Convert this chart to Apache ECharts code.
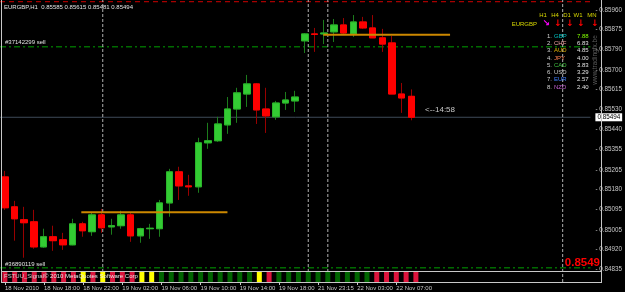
<!DOCTYPE html>
<html>
<head>
<meta charset="utf-8">
<script src="https://cdn.jsdelivr.net/npm/echarts@6/dist/echarts.min.js"></script>
<style>
html, body { margin: 0; padding: 0; background: #000; }
#chart { width: 625px; height: 292px; }
</style>
</head>
<body>
<div id="chart"></div>
<script>
// EURGBP H1 bars
const opens  = [0.85235,0.85105,0.85049,0.85040,0.84931,0.84975,0.84962,0.84940,0.85031,0.84997,0.85070,0.85018,0.85023,0.85070,0.84979,0.85010,0.85010,0.85122,0.85257,0.85196,0.85192,0.85383,0.85392,0.85461,0.85530,0.85595,0.85639,0.85530,0.85496,0.85556,0.85565,0.85826,0.85856,0.85856,0.85865,0.85895,0.85856,0.85908,0.85882,0.85839,0.85817,0.85595,0.85585];
const closes = [0.85101,0.85053,0.85036,0.84931,0.84975,0.84958,0.84940,0.85031,0.85001,0.85070,0.85014,0.85023,0.85070,0.84979,0.85010,0.85012,0.85122,0.85257,0.85196,0.85192,0.85383,0.85392,0.85465,0.85530,0.85600,0.85639,0.85526,0.85500,0.85556,0.85569,0.85582,0.85856,0.85854,0.85860,0.85895,0.85860,0.85908,0.85882,0.85839,0.85812,0.85595,0.85578,0.85494];
const lows   = [0.85092,0.84958,0.84884,0.84923,0.84927,0.84914,0.84918,0.84938,0.84975,0.84979,0.84992,0.84984,0.85010,0.84953,0.84949,0.84966,0.84975,0.85062,0.85135,0.85153,0.85166,0.85357,0.85387,0.85422,0.85470,0.85539,0.85465,0.85426,0.85483,0.85526,0.85517,0.85773,0.85778,0.85812,0.85821,0.85856,0.85843,0.85878,0.85839,0.85778,0.85595,0.85513,0.85481];
const highs  = [0.85261,0.85131,0.85105,0.85092,0.85010,0.85023,0.84992,0.85053,0.85040,0.85079,0.85096,0.85053,0.85088,0.85079,0.85014,0.85031,0.85135,0.85270,0.85279,0.85244,0.85405,0.85470,0.85496,0.85582,0.85622,0.85678,0.85643,0.85622,0.85565,0.85604,0.85609,0.85860,0.85882,0.85917,0.85921,0.85925,0.85938,0.85930,0.85938,0.85878,0.85847,0.85643,0.85615];

// signal strip under the bars: r = red, y = yellow, g = green
const stripSignals = ['r','r','r','r','r','r','r','r','y','r','y','r','r','r','y','y',
  'g','g','g','g','g','g','g','g','g','g','y','r',
  'g','g','g','g','g','g','g','g','g','g','r','r','r','r','r'];

const timeLabels = ['18 Nov 2010','18 Nov 18:00','18 Nov 22:00','19 Nov 02:00','19 Nov 06:00','19 Nov 10:00',
  '19 Nov 14:00','19 Nov 18:00','21 Nov 23:15','22 Nov 03:00','22 Nov 07:00'];
const priceTicks = [0.84835,0.84920,0.85005,0.85095,0.85180,0.85265,0.85355,0.85440,0.85530,0.85615,0.85700,0.85790,0.85875,0.85960];

const currentPrice = 0.85494;
const sellOrders = [{ id: '#37142299 sell', price: 0.85800 }, { id: '#36890119 sell', price: 0.84840 }];
const topLevel = 0.85996;
const levelSegments = [{ from: 7.9, to: 23.0, price: 0.85082 }, { from: 32.9, to: 46.0, price: 0.85853 }];
const separatorBars = [10, 31, 33, 57];

const tfLabels = ['H1','H4','D1','W1','MN'];
const tfArrows = ['↘','↓','↓','↓','↓'];
const strengthCurrencies = ['GBP','CHF','AUD','JPY','CAD','USD','EUR','NZD'];
const strengthValues = [7.88, 6.83, 4.85, 4.00, 3.83, 3.29, 2.57, 2.40];

// ---- layout / styles ----
const FONT = '"Liberation Sans", Arial, sans-serif';
const grey = '#c8c8c8';
const slotCount = 61, slotW = 9.83, gridLeft = -2.7, gridW = slotCount * slotW;
const xMin = -0.5, xMax = slotCount - 0.5;
const showTime = i => i % 4 === 0 && i / 4 < timeLabels.length;
const cats = Array.from({ length: slotCount }, (_, i) => showTime(i) ? timeLabels[i / 4] : 'b' + i);

const stripColors = { r: '#dc143c', y: '#ffff00', g: '#006400' };
const curColors = { GBP: '#00c0c0', CHF: '#f0a0a0', AUD: '#e0b000', JPY: '#ff8050', CAD: '#40c040', USD: '#c8c8c8', EUR: '#4080ff', NZD: '#c060d0' };

const full = opens.map((o, i) => [o, closes[i], lows[i], highs[i]]);
const bodies = opens.map((o, i) => [o, closes[i], Math.min(o, closes[i]), Math.max(o, closes[i])]);

function txt(text, x, y, fill, size, extra) {
    return {
        type: 'text', x: x, y: y, z: 50,
        style: Object.assign({ text: text, fill: fill, font: size + 'px ' + FONT, verticalAlign: 'middle' }, extra || {})
    };
}
function vline(x, y1, y2) {
    return { type: 'line', z: 40, shape: { x1: x, y1: y1, x2: x, y2: y2 }, style: { stroke: grey, lineWidth: 1 } };
}
function hline(y, x1, x2) {
    return { type: 'line', z: 40, shape: { x1: x1, y1: y, x2: x2, y2: y }, style: { stroke: grey, lineWidth: 1 } };
}

const graphics = [
    vline(1.5, 0, 283), vline(601.5, 0, 283), hline(271.5, 1, 601), hline(282.5, 1, 601),
    txt('EURGBP,H1  ' + [opens[42], highs[42], lows[42], closes[42]].map(v => v.toFixed(5)).join(' '), 4, 7, '#e0e0e0', 6),
    txt(sellOrders[0].id, 5, 42, '#e0e0e0', 6),
    txt(sellOrders[1].id, 5, 264, '#e0e0e0', 6),
    txt('<--14:58', 425, 110, '#c8c8c8', 8),
    txt(currentPrice.toFixed(4).slice(0, 6), 600, 263, '#ff0000', 11.5, { align: 'right', font: 'bold 11.5px ' + FONT }),
    txt('FSTUU_Signal', 4, 276, '#d0d0d0', 6),
    txt('© 2010 MetaQuotes Software Corp', 44, 276, '#e8e8e8', 6),
    txt('EURGBP', 537, 24, '#d8d800', 6, { align: 'right' })
];
const mark = txt('www.tradingfx.be', 595, 60, '#5a5a5a', 6.5, { align: 'center' });
mark.rotation = Math.PI / 2;
graphics.push(mark);

const tfX = [543, 555, 567, 578, 592];
const arrowX = [546, 558, 570, 581, 595];
tfLabels.forEach((t, i) => {
    graphics.push(txt(t, tfX[i], 15, '#d8d800', 6, { align: 'center' }));
    graphics.push(txt(tfArrows[i], arrowX[i], 24, i === 0 ? '#ff00ff' : '#ff0000', 9, { align: 'center', font: 'bold 9px "DejaVu Sans", sans-serif' }));
});
strengthCurrencies.forEach((c, i) => {
    const y = 36 + i * 7.3;
    graphics.push(txt((i + 1) + '.', 552, y, '#d0d0d0', 6, { align: 'right' }));
    graphics.push(txt(c, 554, y, curColors[c], 6));
    graphics.push(txt(strengthValues[i].toFixed(2), 577, y, i === 0 ? '#80ff00' : '#e0e0e0', 6));
});

const hiddenVal = (min, max, gi) => ({ type: 'value', gridIndex: gi, min: min, max: max, show: false });

// full-width horizontal price lines, drawn on the value x axis of the main grid
function priceLine(price, lineStyle, z, extra) {
    return Object.assign({
        type: 'line', xAxisIndex: 1, yAxisIndex: 0, z: z, symbol: 'none', silent: true,
        data: [[xMin, price], [xMax, price]], lineStyle: lineStyle
    }, extra || {});
}

const option = {
    backgroundColor: '#000',
    animation: false,
    grid: [
        { left: gridLeft, width: gridW, top: 0, height: 271 },
        { left: gridLeft, width: gridW, top: 272, height: 10 },
        { left: gridLeft, width: gridW, top: 0, height: 282 }
    ],
    xAxis: [
        { type: 'category', gridIndex: 0, data: cats, show: false },
        hiddenVal(xMin, xMax, 0),
        {
            type: 'category', gridIndex: 1, data: cats,
            axisLine: { show: false },
            axisTick: { show: true, interval: showTime, alignWithLabel: true, length: 3, lineStyle: { color: grey } },
            axisLabel: { interval: showTime, align: 'left', margin: 3, color: grey, fontSize: 6, fontFamily: FONT }
        },
        hiddenVal(xMin, xMax, 2)
    ],
    yAxis: [
        {
            type: 'value', gridIndex: 0, position: 'right', offset: 4,
            min: 0.848263, max: 0.860034, scale: true,
            splitLine: { show: false },
            axisLine: { show: false },
            axisTick: { show: false },
            axisLabel: { customValues: priceTicks, formatter: v => '- ' + v.toFixed(5), margin: 1, color: grey, fontSize: 6.3, fontFamily: FONT }
        },
        hiddenVal(0, 1, 1),
        hiddenVal(0, 1, 2)
    ],
    series: [
        priceLine(topLevel, { color: '#d00000', type: [5, 4], width: 1 }, 1),
        priceLine(sellOrders[0].price, { color: '#00a000', type: [6, 3, 2, 3], width: 1 }, 1),
        priceLine(sellOrders[1].price, { color: '#00a000', type: [6, 3, 2, 3], width: 1 }, 1),
        priceLine(currentPrice, { color: '#3e4a58', width: 1 }, 1, {
            endLabel: {
                show: true, distance: 5, formatter: currentPrice.toFixed(5),
                backgroundColor: '#ffffff', color: '#000', padding: [1, 2], fontSize: 6.3, fontFamily: FONT
            }
        }),
        // wicks (dark)
        {
            type: 'candlestick', xAxisIndex: 0, yAxisIndex: 0, data: full, barWidth: 7, z: 2,
            itemStyle: { color: '#1c7c1c', color0: '#990000', borderColor: '#1c7c1c', borderColor0: '#990000' }
        },
        // bodies (bright)
        {
            type: 'candlestick', xAxisIndex: 0, yAxisIndex: 0, data: bodies, barWidth: 7, z: 3,
            itemStyle: { color: '#33cc33', color0: '#ff0000', borderColor: '#2bb52b', borderColor0: '#ff0000' }
        },
        ...levelSegments.map(s => ({
            type: 'line', xAxisIndex: 1, yAxisIndex: 0, z: 5, symbol: 'none', silent: true,
            data: [[s.from, s.price], [s.to, s.price]],
            lineStyle: { color: '#cc8800', width: 2 }
        })),
        {
            type: 'bar', xAxisIndex: 2, yAxisIndex: 1, barWidth: 5, z: 2,
            data: stripSignals.map(s => ({ value: 1, itemStyle: { color: stripColors[s] } }))
        },
        ...separatorBars.map(b => ({
            type: 'line', xAxisIndex: 3, yAxisIndex: 2, z: 1, symbol: 'none', silent: true,
            data: [[b, 0], [b, 1]],
            lineStyle: { color: '#b0b0b0', width: 1, type: [3, 2] }
        }))
    ],
    graphic: graphics
};

const chart = echarts.init(document.getElementById('chart'));
chart.setOption(option);
</script>
</body>
</html>
